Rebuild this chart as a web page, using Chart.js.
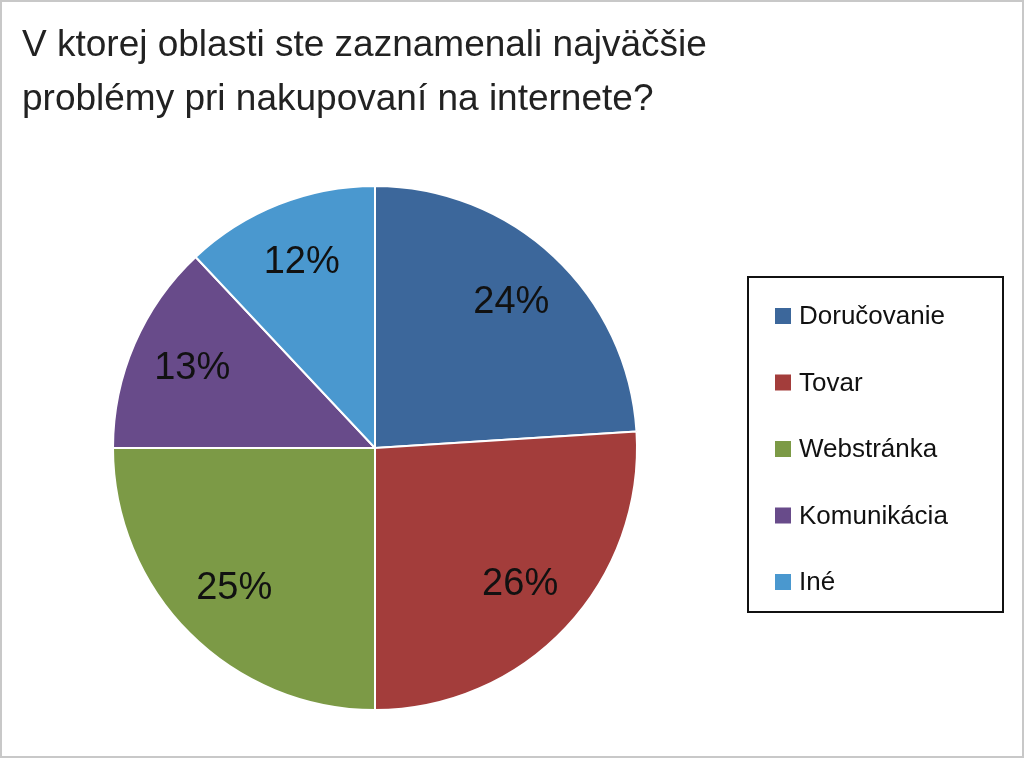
<!DOCTYPE html>
<html><head><meta charset="utf-8">
<script src="https://cdn.jsdelivr.net/npm/chart.js@4"></script>
<style>html,body{margin:0;padding:0;background:#fff}#w{width:1024px;height:758px;position:relative}</style>
</head><body><div id="w"><canvas id="c"></canvas></div>
<script>
const titleLines = ["V ktorej oblasti ste zaznamenali najväčšie", "problémy pri nakupovaní na internete?"];
const categories = ["Doručovanie", "Tovar", "Webstránka", "Komunikácia", "Iné"];
const values = [24, 26, 25, 13, 12];
const colors = ["#3c679b", "#a33d3b", "#7c9a46", "#684b8a", "#4a98cf"];

const deco = {
  id: 'deco',
  afterDraw(chart) {
    const ctx = chart.ctx;
    ctx.save();
    ctx.strokeStyle = '#c8c8c8'; ctx.lineWidth = 2;
    ctx.strokeRect(1, 1, 1022, 756);
    ctx.fillStyle = '#222'; ctx.font = '37px "Liberation Sans", Arial, sans-serif';
    ctx.textBaseline = 'middle'; ctx.textAlign = 'left';
    ctx.fillText(titleLines[0], 22, 46);
    ctx.fillText(titleLines[1], 22, 100);
    const meta = chart.getDatasetMeta(0);
    ctx.font = '38px "Liberation Sans", Arial, sans-serif';
    ctx.textAlign = 'center'; ctx.fillStyle = '#111';
    meta.data.forEach((arc, i) => {
      const p = arc.getProps(['x','y','startAngle','endAngle','outerRadius'], true);
      const a = (p.startAngle + p.endAngle) / 2;
      const r = p.outerRadius * 0.76;
      ctx.fillText(values[i] + '%', p.x + Math.cos(a) * r, p.y + Math.sin(a) * r);
    });
    ctx.strokeStyle = '#111'; ctx.lineWidth = 2;
    ctx.strokeRect(748, 277, 255, 335);
    ctx.font = '26px "Liberation Sans", Arial, sans-serif';
    ctx.textAlign = 'left';
    categories.forEach((c, i) => {
      const y = 316 + i * 66.5;
      ctx.fillStyle = colors[i];
      ctx.fillRect(775, y - 8, 16, 16);
      ctx.fillStyle = '#111';
      ctx.fillText(c, 799, y + 1);
    });
    ctx.restore();
  }
};

new Chart(document.getElementById('c'), {
  type: 'pie',
  data: { labels: categories, datasets: [{ data: values, backgroundColor: colors, borderColor: '#fff', borderWidth: 2 }] },
  options: {
    responsive: true, maintainAspectRatio: false, animation: false,
    layout: { padding: { left: 112, right: 386, top: 185, bottom: 47 } },
    plugins: { legend: { display: false }, tooltip: { enabled: false }, title: { display: false } }
  },
  plugins: [deco]
});
</script></body></html>
